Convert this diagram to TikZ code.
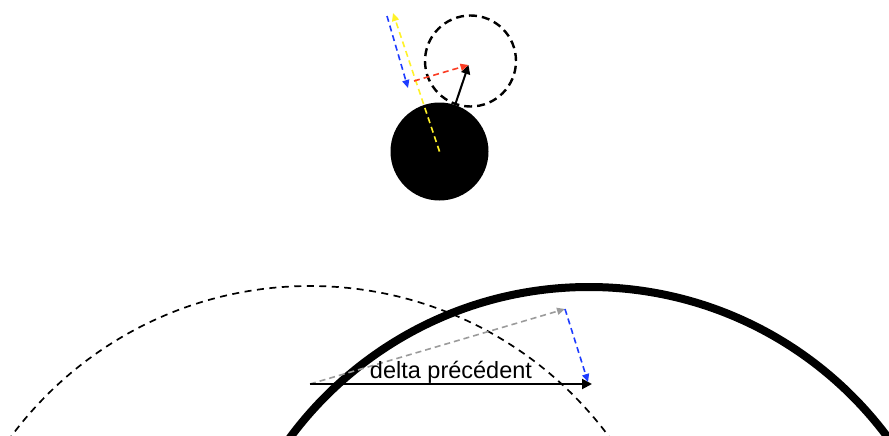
\documentclass[tikz,border=0pt]{standalone}
\usepackage{fontspec}
\setmainfont{Liberation Sans}
\usetikzlibrary{arrows.meta}
\definecolor{diryellow}{RGB}{255,242,40}
\definecolor{projblue}{RGB}{30,60,255}
\definecolor{perpred}{RGB}{250,60,35}
\definecolor{guessgray}{RGB}{155,155,155}
\tikzset{
    ball/.style={circle, fill=black, minimum size=98pt, inner sep=0pt},
    probe/.style={circle, draw, line width=2.4pt, dash pattern=on 8pt off 5pt, minimum size=91pt, inner sep=0pt},
    track/.style={line width=8pt},
    oldtrack/.style={line width=1.7pt, dash pattern=on 7pt off 5.5pt},
    arrow/.style={-{Triangle[length=10pt, width=10pt]}, line width=2pt},
    dashedarrow/.style={-{Triangle[length=8pt, width=7pt]}, line width=1.6pt, dash pattern=on 6pt off 4pt},
    deltalabel/.style={font=\fontsize{23.5}{28}\selectfont, inner sep=0pt},
}

\begin{document}
\begin{tikzpicture}[x=1pt, y=-1pt]
    \useasboundingbox (0,0) rectangle (889,436);
    \clip (0,0) rectangle (889,436);
    % ball and next position
    \node[ball] (ball) at (439.5,151.5) {};
    \node[probe] (goal) at (470.5,61) {};
    \coordinate (target) at (468.5,65);
    \coordinate (dir) at (393,13);
    \coordinate (projstart) at (387,16);
    \coordinate (projend) at (408,88);
    \coordinate (perpstart) at (414,81);
    \draw[arrow, -{Triangle[length=9pt, width=9pt]}] (ball) -- (target);
    \draw[dashedarrow, diryellow] (ball.center) -- (dir);
    \draw[dashedarrow, projblue] (projstart) -- (projend);
    \draw[dashedarrow, perpred] (perpstart) -- (target);
    % previous and current track
    \draw[oldtrack] (310,658) circle[radius=372];
    \draw[track] (589,659) circle[radius=372];
    \coordinate (origin) at (310,384);
    \coordinate (delta) at (592,384);
    \coordinate (guess) at (565,309);
    \coordinate (fixed) at (588,382);
    \draw[dashedarrow, guessgray] (origin) -- (guess);
    \draw[dashedarrow, projblue] (guess) -- (fixed);
    \draw[arrow] (origin) -- node[above, deltalabel] (prev) {delta précédent} (delta);
\end{tikzpicture}
\end{document}
